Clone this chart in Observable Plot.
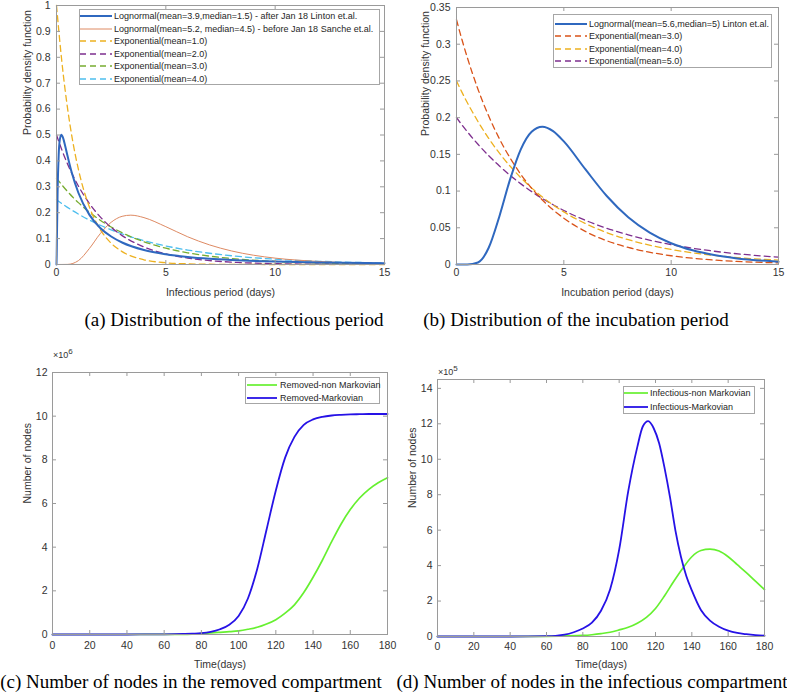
<!DOCTYPE html>
<html><head><meta charset="utf-8">
<script src="https://cdn.jsdelivr.net/npm/d3@7"></script>
<script src="https://cdn.jsdelivr.net/npm/@observablehq/plot@0.6"></script>
<style>
body{margin:0;background:#fff}
#page{position:relative;width:787px;height:694px;overflow:hidden;background:#fff}
.panel{position:absolute}
.panel svg{display:block}
.legend{position:absolute;background:#fff;border:1px solid #a6a6a6;box-sizing:border-box}
.lrow{position:absolute;font:9px "Liberation Sans",Arial,sans-serif;color:#262626;white-space:nowrap;line-height:10px}
.cap{position:absolute;font:19px "Liberation Serif","Times New Roman",serif;color:#000;white-space:nowrap;line-height:19px;transform:translateX(-50%)}
.expo{position:absolute;font:9px "Liberation Sans",Arial,sans-serif;color:#333;white-space:nowrap;line-height:10px}
.expo sup{font-size:8px;vertical-align:4px;line-height:0}
</style>
</head><body>
<div id="page"></div>
<script>
// ---------- data ----------
// (a) infectious period
const infX = [0, 0.01, 0.02, 0.05, 0.1, 0.15, 0.22, 0.3, 0.4, 0.5, 0.7, 1, 1.5, 2, 2.5, 3, 4, 5, 6, 7, 8, 10, 12, 15];
const lognLinton = [0, 0.0405, 0.110, 0.280, 0.424, 0.481, 0.501, 0.489, 0.457, 0.421, 0.354, 0.277, 0.1925, 0.141, 0.108, 0.085, 0.056, 0.0395, 0.029, 0.022, 0.0173, 0.0113, 0.0078, 0.0048];
const sancheX = [0, 0.5, 1, 1.5, 2, 2.5, 3, 3.4, 4, 5, 6, 7, 8, 9, 10, 12, 15];
const lognSanche = [0, 0.0004, 0.0149, 0.0613, 0.119, 0.163, 0.186, 0.1905, 0.181, 0.146, 0.107, 0.0756, 0.0524, 0.0359, 0.0246, 0.0117, 0.004];
const expX = [0, 0.25, 0.5, 0.75, 1, 1.5, 2, 2.5, 3, 4, 5, 6, 7, 8, 10, 12, 15];
const exp1 = [1, 0.7788, 0.6065, 0.4724, 0.3679, 0.2231, 0.1353, 0.0821, 0.0498, 0.0183, 0.0067, 0.0025, 0.0009, 0.0003, 0.00005, 0, 0];
const exp2 = [0.5, 0.4412, 0.3894, 0.3436, 0.3033, 0.2362, 0.1839, 0.1433, 0.1116, 0.0677, 0.0410, 0.0249, 0.0151, 0.0092, 0.0034, 0.0012, 0.0003];
const exp3 = [0.3333, 0.3067, 0.2822, 0.2596, 0.2388, 0.2022, 0.1711, 0.1449, 0.1226, 0.0879, 0.0630, 0.0451, 0.0323, 0.0232, 0.0119, 0.0061, 0.0022];
const exp4 = [0.25, 0.2348, 0.2206, 0.2073, 0.1947, 0.1718, 0.1516, 0.1338, 0.1181, 0.0920, 0.0716, 0.0558, 0.0434, 0.0338, 0.0205, 0.0124, 0.0059];
const exp5 = [0.2, 0.1902, 0.1810, 0.1721, 0.1637, 0.1482, 0.1341, 0.1213, 0.1098, 0.0899, 0.0736, 0.0602, 0.0493, 0.0404, 0.0271, 0.0181, 0.0100];
// (b) incubation period
const incX = [0, 0.5, 1, 1.5, 2, 2.5, 3, 3.5, 4, 4.5, 5, 6, 7, 8, 9, 10, 11, 12, 13, 15];
const lognInc = [0, 0, 0.0028, 0.0228, 0.0658, 0.1162, 0.1572, 0.1809, 0.1877, 0.1817, 0.1676, 0.1298, 0.0933, 0.0644, 0.0435, 0.029, 0.0193, 0.0129, 0.0086, 0.0039];
// (c) removed compartment (x10^6)
const remDays = [0, 20, 40, 60, 70, 75, 80, 85, 90, 95, 100, 105, 110, 115, 120, 125, 130, 135, 140, 145, 150, 155, 160, 165, 170, 175, 180];
const remMarkov = [0, 0, 0, 0.01, 0.025, 0.04, 0.06, 0.12, 0.24, 0.45, 0.85, 1.65, 3.0, 4.8, 6.6, 8.1, 9.05, 9.6, 9.85, 9.97, 10.03, 10.06, 10.08, 10.09, 10.1, 10.1, 10.1];
const remNonMarkov = [0, 0, 0, 0.005, 0.01, 0.02, 0.04, 0.07, 0.1, 0.13, 0.17, 0.24, 0.33, 0.48, 0.68, 0.98, 1.36, 1.92, 2.62, 3.4, 4.25, 5.05, 5.72, 6.25, 6.65, 6.95, 7.18];
// (d) infectious compartment (x10^5)
const infDays = [0, 20, 40, 60, 65, 70, 75, 80, 85, 90, 95, 100, 105, 110, 113, 116, 119, 122, 125, 128, 131, 134, 137, 140, 145, 150, 155, 160, 165, 170, 175, 180];
const infMarkov = [0, 0, 0, 0.02, 0.04, 0.1, 0.24, 0.45, 0.78, 1.45, 2.65, 4.9, 8.2, 10.7, 11.85, 12.15, 11.75, 10.9, 9.5, 7.85, 5.96, 4.5, 3.4, 2.6, 1.5, 0.9, 0.55, 0.33, 0.2, 0.13, 0.08, 0.05];
const nonDays = [0, 20, 40, 60, 70, 80, 85, 90, 95, 100, 105, 110, 115, 120, 125, 130, 135, 140, 145, 150, 155, 160, 165, 170, 175, 180];
const infNonMarkov = [0, 0, 0, 0.01, 0.03, 0.06, 0.1, 0.16, 0.24, 0.37, 0.52, 0.75, 1.08, 1.58, 2.3, 3.1, 3.85, 4.5, 4.85, 4.93, 4.82, 4.5, 4.05, 3.6, 3.12, 2.65];
// ticks
const pdfXTicks = [0, 5, 10, 15];
const aYTicks = [0, 0.1, 0.2, 0.3, 0.4, 0.5, 0.6, 0.7, 0.8, 0.9, 1];
const bYTicks = [0, 0.05, 0.1, 0.15, 0.2, 0.25, 0.3, 0.35];
const dayTicks = [0, 20, 40, 60, 80, 100, 120, 140, 160, 180];
const cYTicks = [0, 2, 4, 6, 8, 10, 12];
const dYTicks = [0, 2, 4, 6, 8, 10, 12, 14];

// colours
const C = {blue:"#2f68bf", orange:"#D95319", yellow:"#EDB120", purple:"#7E2F8E", green:"#77AC30", cyan:"#4DBEEE", lime:"#66f030", pure:"#2612e6"};
const DASH = "6,4";
const pts = (xs, ys) => xs.map((x, i) => ({x, y: ys[i]}));
const page = document.getElementById("page");
const fmt = d => String(+d.toFixed(2));

function panel(cfg) {
  const {left, top, width, height, ml, mr, mt, mb, xDomain, yDomain, xTicks, yTicks, xLabel, yLabel, xLabelOffset, yLabelOffset, xPad, yPad, series} = cfg;
  const iw = width - ml - mr, ih = height - mt - mb, tk = 4, tc = "#9a9a9a";
  const chart = Plot.plot({
    width, height, marginLeft: ml, marginRight: mr, marginTop: mt, marginBottom: mb,
    style: {fontFamily: '"Liberation Sans", Arial, sans-serif', fontSize: "10.5px", color: "#333", overflow: "visible", background: "transparent"},
    x: {domain: xDomain},
    y: {domain: yDomain},
    marks: [
      ...series.map(s => Plot.line(s.data, {x: "x", y: "y", stroke: s.color, strokeWidth: s.width, strokeDasharray: s.dash, curve: "monotone-x"})),
      Plot.frame({stroke: tc}),
      Plot.tickX(xTicks, {x: d => d, insetTop: ih - tk, stroke: tc}),
      Plot.tickX(xTicks, {x: d => d, insetBottom: ih - tk, stroke: tc}),
      Plot.tickY(yTicks, {y: d => d, insetRight: iw - tk, stroke: tc}),
      Plot.tickY(yTicks, {y: d => d, insetLeft: iw - tk, stroke: tc}),
      Plot.axisX(xTicks, {tickSize: 0, tickPadding: xPad, tickFormat: fmt, label: null}),
      Plot.axisY(yTicks, {tickSize: 0, tickPadding: yPad, tickFormat: fmt, label: null}),
      Plot.text([xLabel], {text: d => d, frameAnchor: "bottom", lineAnchor: "bottom", dy: xLabelOffset, fill: "#333"}),
      Plot.text([yLabel], {text: d => d, frameAnchor: "left", lineAnchor: "top", rotate: -90, dx: -yLabelOffset, fill: "#333"})
    ]
  });
  const div = document.createElement("div");
  div.className = "panel";
  div.style.left = left + "px"; div.style.top = top + "px";
  div.appendChild(chart);
  page.appendChild(div);
}

function legend(box, rows, lx1, lx2, tx, cy0, step) {
  const b = document.createElement("div");
  b.className = "legend";
  Object.assign(b.style, {left: box.x + "px", top: box.y + "px", width: box.w + "px", height: box.h + "px"});
  page.appendChild(b);
  rows.forEach((r, i) => {
    const cy = cy0 + i * step;
    const svg = d3.select(page).append("svg")
      .style("position", "absolute").style("left", lx1 + "px").style("top", (cy - 3) + "px")
      .attr("width", lx2 - lx1).attr("height", 6);
    svg.append("line").attr("x1", 0).attr("x2", lx2 - lx1).attr("y1", 3).attr("y2", 3)
      .attr("stroke", r.color).attr("stroke-width", r.width).attr("stroke-dasharray", r.dash || null);
    const t = document.createElement("div");
    t.className = "lrow";
    t.style.left = tx + "px"; t.style.top = (cy - 5) + "px";
    t.textContent = r.label;
    page.appendChild(t);
  });
}

function caption(text, cx, top) {
  const d = document.createElement("div");
  d.className = "cap"; d.textContent = text;
  d.style.left = cx + "px"; d.style.top = top + "px";
  page.appendChild(d);
}
function expo(base, sup, x, y) {
  const d = document.createElement("div");
  d.className = "expo"; d.innerHTML = "\u00d7" + base + "<sup>" + sup + "</sup>";
  d.style.left = x + "px"; d.style.top = y + "px";
  page.appendChild(d);
}

// (a)
const aSeries = [
  {label: "Lognormal(mean=3.9,median=1.5) - after Jan 18 Linton et.al.", data: pts(infX, lognLinton), color: C.blue, width: 2},
  {label: "Lognormal(mean=5.2, median=4.5) - before Jan 18 Sanche et.al.", data: pts(sancheX, lognSanche), color: "#de8a63", width: 1},
  {label: "Exponential(mean=1.0)", data: pts(expX, exp1), color: C.yellow, width: 1.3, dash: DASH},
  {label: "Exponential(mean=2.0)", data: pts(expX, exp2), color: C.purple, width: 1.3, dash: DASH},
  {label: "Exponential(mean=3.0)", data: pts(expX, exp3), color: C.green, width: 1.3, dash: DASH},
  {label: "Exponential(mean=4.0)", data: pts(expX, exp4), color: C.cyan, width: 1.3, dash: DASH}
];
panel({left: 0, top: 0, width: 393, height: 300, ml: 56, mr: 9, mt: 5, mb: 36,
  xDomain: [0, 15], yDomain: [0, 1], xTicks: pdfXTicks, yTicks: aYTicks,
  xLabel: "Infectious period (days)", yLabel: "Probability density function",
  xLabelOffset: 31, yLabelOffset: 33, xPad: 4, yPad: 6, series: aSeries.slice().reverse()});
legend({x: 79, y: 9, w: 301, h: 76}, aSeries, 80, 112, 114, 16, 12.6);

// (b)
const bSeries = [
  {label: "Lognormal(mean=5.6,median=5) Linton et.al.", data: pts(incX, lognInc), color: C.blue, width: 2},
  {label: "Exponential(mean=3.0)", data: pts(expX, exp3), color: C.orange, width: 1.3, dash: DASH},
  {label: "Exponential(mean=4.0)", data: pts(expX, exp4), color: C.yellow, width: 1.3, dash: DASH},
  {label: "Exponential(mean=5.0)", data: pts(expX, exp5), color: C.purple, width: 1.3, dash: DASH}
];
panel({left: 400, top: 0, width: 387, height: 300, ml: 56, mr: 9, mt: 7, mb: 36,
  xDomain: [0, 15], yDomain: [0, 0.35], xTicks: pdfXTicks, yTicks: bYTicks,
  xLabel: "Incubation period (days)", yLabel: "Probability density function",
  xLabelOffset: 31, yLabelOffset: 35, xPad: 4, yPad: 6, series: bSeries.slice().reverse()});
legend({x: 553, y: 14, w: 219, h: 54}, bSeries, 555, 587, 589, 24, 12.4);

// (c)
const cSeries = [
  {label: "Removed-non Markovian", data: pts(remDays, remNonMarkov), color: C.lime, width: 1.7},
  {label: "Removed-Markovian", data: pts(remDays, remMarkov), color: C.pure, width: 1.8}
];
panel({left: 0, top: 340, width: 400, height: 330, ml: 52, mr: 13, mt: 32, mb: 36,
  xDomain: [0, 180], yDomain: [0, 12], xTicks: dayTicks, yTicks: cYTicks,
  xLabel: "Time(days)", yLabel: "Number of nodes",
  xLabelOffset: 33, yLabelOffset: 29, xPad: 7, yPad: 5, series: cSeries});
legend({x: 245, y: 377, w: 135, h: 27}, cSeries, 247, 277, 280, 385, 12.5);
expo("10", "6", 53, 350);

// (d)
const dSeries = [
  {label: "Infectious-non Markovian", data: pts(nonDays, infNonMarkov), color: C.lime, width: 1.7},
  {label: "Infectious-Markovian", data: pts(infDays, infMarkov), color: C.pure, width: 1.8}
];
panel({left: 400, top: 340, width: 387, height: 330, ml: 37, mr: 23, mt: 39, mb: 34,
  xDomain: [0, 180], yDomain: [0, 14.5], xTicks: dayTicks, yTicks: dYTicks,
  xLabel: "Time(days)", yLabel: "Number of nodes",
  xLabelOffset: 31, yLabelOffset: 29, xPad: 6, yPad: 5, series: dSeries});
legend({x: 623, y: 386, w: 132, h: 28}, dSeries, 624, 648, 650, 393, 13.5);
expo("10", "5", 438, 367);

// captions
caption("(a) Distribution of the infectious period", 234, 310);
caption("(b) Distribution of the incubation period", 576, 310);
caption("(c) Number of nodes in the removed compartment", 191, 672);
caption("(d) Number of nodes in the infectious compartment", 592, 672);
</script>
</body></html>
